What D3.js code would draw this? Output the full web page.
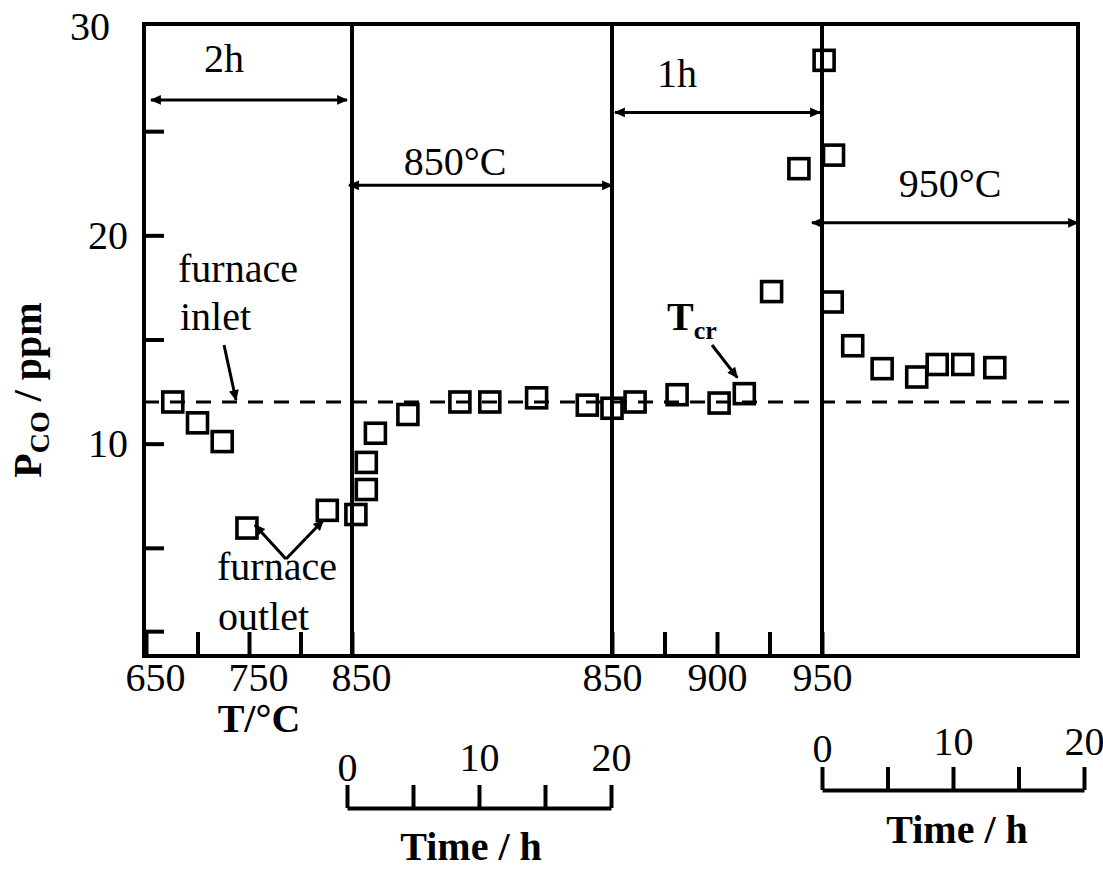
<!DOCTYPE html>
<html>
<head>
<meta charset="utf-8">
<script src="https://cdn.jsdelivr.net/npm/d3@7"></script>
<style>
  body { margin: 0; background: #fff; }
  svg { display: block; }
  text { font-family: "Liberation Serif", "Times New Roman", serif; fill: #000; }
  .axis text { font-size: 40px; font-family: "Liberation Serif", serif; }
</style>
</head>
<body>
<svg id="chart" width="1103" height="871" font-family="Liberation Serif"></svg>
<script>
// ramp 650 -> 850 C (furnace outlet, temperature axis)
var rampTempsA = [676, 700, 724, 748, 826];
var rampCoA    = [12.0, 11.0, 10.1, 5.95, 6.8];

// hold at 850 C (time axis, h)
var hold850Time = [0.3, 1.1, 1.1, 1.8, 4.3, 8.3, 10.6, 14.2, 18.1, 20.0];
var hold850Co   = [6.6, 7.8, 9.1, 10.5, 11.4, 12.0, 12.0, 12.2, 11.85, 11.7];

// ramp 850 -> 950 C
var rampTempsB = [861, 881, 901, 913, 926, 939, 951];
var rampCoB    = [12.0, 12.35, 11.95, 12.4, 17.3, 23.2, 28.4];

// hold at 950 C
var hold950Time = [0.8, 0.9, 2.4, 4.7, 7.4, 9.0, 11.0, 13.5];
var hold950Co   = [16.8, 23.85, 14.7, 13.6, 13.2, 13.8, 13.8, 13.65];

var inletLevel = 12;
var yTicks = [1, 5, 10, 15, 20, 25, 30];
var yLabels = [10, 20, 30];
var tempTicksA = [650, 700, 750, 800, 850];
var tempTicksB = [850, 875, 900, 925, 950];
var timeTicks = [0, 5, 10, 15, 20];

var svg = d3.select("#chart");
var box = {left: 144, right: 1078, top: 24, bottom: 656};

var y = d3.scaleLinear().domain([0, 30]).range([652, 27]);
var xA = d3.scaleLinear().domain([650, 850]).range([146, 352]);
var x1 = d3.scaleLinear().domain([0, 20]).range([352, 612]);
var xB = d3.scaleLinear().domain([850, 950]).range([612, 822]);
var x2 = d3.scaleLinear().domain([0, 20]).range([822, 1078]);

// thick black axis strokes
function inkAxis(g) {
  g.selectAll("line, path").style("stroke", "#000").style("stroke-width", 4);
}

// arrow heads
var defs = svg.append("defs");
defs.append("marker")
    .attr("id", "arrow")
    .attr("viewBox", "0 -5 10 10")
    .attr("refX", 9).attr("refY", 0)
    .attr("markerWidth", 13).attr("markerHeight", 11)
    .attr("markerUnits", "userSpaceOnUse")
    .attr("orient", "auto-start-reverse")
  .append("path")
    .attr("d", "M0,-4.5L10,0L0,4.5Z")
    .style("fill", "#000");

/* frame and segment dividers */
svg.append("rect")
   .attr("x", box.left).attr("y", box.top)
   .attr("width", box.right - box.left).attr("height", box.bottom - box.top)
   .style("fill", "none").style("stroke", "#000").style("stroke-width", 4);

[xA(850), xB(850), xB(950)].forEach(function(xv) {
  svg.append("line")
     .attr("x1", xv).attr("x2", xv)
     .attr("y1", box.top).attr("y2", box.bottom)
     .style("stroke", "#000").style("stroke-width", 4);
});

// inlet level (dashed)
svg.append("line")
   .attr("x1", box.left).attr("x2", box.right)
   .attr("y1", y(inletLevel)).attr("y2", y(inletLevel))
   .style("stroke", "#000").style("stroke-width", 3)
   .style("stroke-dasharray", "15,11");

/* y axis, ticks inward */
var yAxis = svg.append("g").attr("class", "axis")
   .attr("transform", "translate(" + box.left + ",0)")
   .call(d3.axisLeft(y).tickValues(yTicks).tickSize(-20).tickPadding(16)
          .tickFormat(function(d) { return yLabels.indexOf(d) >= 0 ? d : ""; }))
   .call(inkAxis);
yAxis.select(".domain").remove();
yAxis.selectAll(".tick").filter(function(d) { return d === 30; })
     .select("line").remove();
yAxis.selectAll(".tick").filter(function(d) { return d === 30; })
     .select("text").attr("dx", -18);

/* temperature axes along the bottom */
var tA = svg.append("g").attr("class", "axis")
   .attr("transform", "translate(0," + box.bottom + ")")
   .call(d3.axisBottom(xA).tickValues(tempTicksA).tickSize(-24).tickPadding(7)
          .tickFormat(function(d) { return d % 100 === 50 ? d : ""; }))
   .call(inkAxis);
tA.select(".domain").remove();
tA.selectAll("text").attr("dx", 9);

var tB = svg.append("g").attr("class", "axis")
   .attr("transform", "translate(0," + box.bottom + ")")
   .call(d3.axisBottom(xB).tickValues(tempTicksB).tickSize(-24).tickPadding(7)
          .tickFormat(function(d) { return d % 50 === 0 ? d : ""; }))
   .call(inkAxis);
tB.select(".domain").remove();

svg.append("text").attr("x", 259).attr("y", 732)
   .attr("text-anchor", "middle")
   .style("font-size", "40px").style("font-weight", "bold")
   .text("T/°C");

/* time axes below */
var tAxis1 = d3.scaleLinear().domain([0, 20]).range([347, 611]);
var g1 = svg.append("g").attr("class", "axis")
   .attr("transform", "translate(0,808)")
   .call(d3.axisTop(tAxis1).tickValues(timeTicks).tickSize(23).tickSizeOuter(0).tickPadding(14)
          .tickFormat(function(d) { return d % 10 === 0 ? d : ""; }))
   .call(inkAxis);
g1.selectAll(".tick").filter(function(d) { return d === 0; }).select("text").attr("dy", "10");
svg.append("text").attr("x", 471).attr("y", 860)
   .attr("text-anchor", "middle")
   .style("font-size", "40px").style("font-weight", "bold")
   .text("Time / h");

var tAxis2 = d3.scaleLinear().domain([0, 20]).range([822, 1084]);
var g2 = svg.append("g").attr("class", "axis")
   .attr("transform", "translate(0,790)")
   .call(d3.axisTop(tAxis2).tickValues(timeTicks).tickSize(23).tickSizeOuter(0).tickPadding(12)
          .tickFormat(function(d) { return d % 10 === 0 ? d : ""; }))
   .call(inkAxis);
g2.selectAll(".tick").filter(function(d) { return d === 0; }).select("text").attr("dy", "7");
svg.append("text").attr("x", 957).attr("y", 843)
   .attr("text-anchor", "middle")
   .style("font-size", "40px").style("font-weight", "bold")
   .text("Time / h");

/* y title */
var yt = svg.append("text")
   .attr("transform", "translate(41,390) rotate(-90)")
   .attr("text-anchor", "middle")
   .style("font-size", "40px").style("font-weight", "bold");
yt.append("tspan").text("P");
yt.append("tspan").attr("dy", 8).style("font-size", "28px").text("CO");
yt.append("tspan").attr("dy", -8).text(" / ppm");

/* span arrows with labels */
function span(x0, x1v, yv, label, lx, ly) {
  svg.append("line")
     .attr("x1", x0).attr("x2", x1v).attr("y1", yv).attr("y2", yv)
     .style("stroke", "#000").style("stroke-width", 3)
     .attr("marker-start", "url(#arrow)").attr("marker-end", "url(#arrow)");
  svg.append("text").attr("x", lx).attr("y", ly)
     .attr("text-anchor", "middle").style("font-size", "40px")
     .text(label);
}
span(xA(650) + 5, xA(850) - 5, y(26.5), "2h", 224, 72);
span(x1(0) - 3, x1(20), y(22.4), "850°C", 455, 175);
span(xB(850) + 3, xB(950) - 2, y(25.9), "1h", 677, 87);
span(x2(0) - 10, x2(20), y(20.6), "950°C", 950, 197);

/* annotations */
function pointer(xa, ya, xb, yb) {
  svg.append("line")
     .attr("x1", xa).attr("y1", ya).attr("x2", xb).attr("y2", yb)
     .style("stroke", "#000").style("stroke-width", 3)
     .attr("marker-end", "url(#arrow)");
}
function note(txt, xv, yv) {
  return svg.append("text").attr("x", xv).attr("y", yv)
     .style("font-size", "40px")
     .text(txt);
}
note("furnace", 178, 282);
note("inlet", 180, 330);
pointer(224, 345, 236, y(inletLevel) - 2);

note("furnace", 217, 580);
note("outlet", 218, 630);
pointer(286, 559, xA(rampTempsA[3]) + 8, y(rampCoA[3]) - 3);
pointer(286, 559, xA(rampTempsA[4]) - 4, y(rampCoA[4]) + 10);

var tcr = svg.append("text").attr("x", 667).attr("y", 330)
   .style("font-size", "40px").style("font-weight", "bold");
tcr.append("tspan").text("T");
tcr.append("tspan").attr("dy", 9).style("font-size", "26px").text("cr");
pointer(712, 345, xB(rampTempsB[3]) - 7, y(rampCoB[3]) - 16);

/* data squares */
var pts = [];
rampTempsA.forEach(function(t, i) { pts.push({x: xA(t), y: y(rampCoA[i])}); });
hold850Time.forEach(function(t, i) { pts.push({x: x1(t), y: y(hold850Co[i])}); });
rampTempsB.forEach(function(t, i) { pts.push({x: xB(t), y: y(rampCoB[i])}); });
hold950Time.forEach(function(t, i) { pts.push({x: x2(t), y: y(hold950Co[i])}); });

var sq = 20;
svg.append("g").selectAll("rect")
   .data(pts)
 .enter().append("rect")
   .attr("x", function(d) { return d.x - sq / 2; })
   .attr("y", function(d) { return d.y - sq / 2; })
   .attr("width", sq).attr("height", sq)
   .style("fill", "none").style("stroke", "#000").style("stroke-width", 3.6);
</script>
</body>
</html>
